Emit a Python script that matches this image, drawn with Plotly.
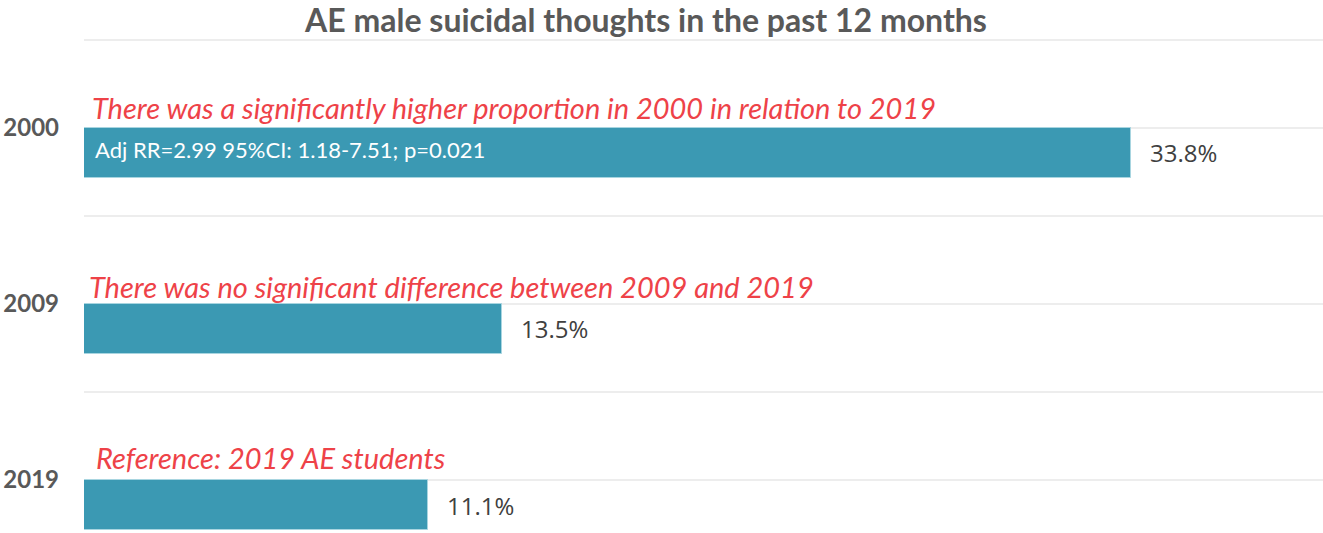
import plotly.graph_objects as go

# ---- data ----
years = ["2000", "2009", "2019"]
values = [33.8, 13.5, 11.1]
notes = [
    "There was a significantly higher proportion in 2000 in relation to 2019",
    "There was no significant difference between 2009 and 2019",
    "Reference: 2019 AE students",
]
inner_notes = ["Adj RR=2.99 95%CI: 1.18-7.51; p=0.021", "", ""]
title_text = "AE male suicidal thoughts in the past 12 months"

# ---- styling ----
BAR_COLOR = "#3B99B3"
RED = "#EE4248"
GREY_DARK = "#595959"
VAL_COLOR = "#404040"
BAR_W = 0.284

pos = list(range(len(years)))

fig = go.Figure()
fig.add_trace(go.Bar(
    x=values,
    y=pos,
    orientation="h",
    width=BAR_W,
    offset=0,
    marker=dict(color=BAR_COLOR, line=dict(color="#A8D5E0", width=1)),
    hoverinfo="skip",
    showlegend=False,
))

annotations = []
note_shift = [6, 3, 10]
note_off = [0.115, 0.10, 0.13]
for i, (v, n, inn) in enumerate(zip(values, notes, inner_notes)):
    # value label
    annotations.append(dict(
        x=v, y=i + BAR_W / 2, xref="x", yref="y",
        text=f"{v:.1f}%", showarrow=False, xanchor="left", yanchor="middle",
        xshift=17, font=dict(family="Open Sans", size=24, color=VAL_COLOR),
    ))
    # red note above bar
    annotations.append(dict(
        x=0, y=i - note_off[i], xref="x", yref="y",
        text=n, showarrow=False, xanchor="left", yanchor="middle",
        xshift=note_shift[i],
        font=dict(family="Lato", size=29, color=RED, style="italic"),
    ))
    if inn:
        annotations.append(dict(
            x=0, y=i + BAR_W / 2, xref="x", yref="y",
            text=inn, showarrow=False, xanchor="left", yanchor="middle",
            xshift=9, yshift=3,
            font=dict(family="Lato", size=22, color="white"),
        ))

tickvals = [-0.5, 0, 0.5, 1, 1.5, 2]
ticktext = ["", years[0], "", years[1], "", years[2]]

fig.update_layout(
    width=1323, height=533,
    margin=dict(l=84, r=0, t=30, b=0),
    paper_bgcolor="white", plot_bgcolor="white",
    title=dict(
        text=f"<b>{title_text}</b>",
        x=646 / 1323, xanchor="center", xref="container",
        y=1 - 21 / 533, yanchor="middle", yref="container",
        font=dict(family="Lato", size=32, color=GREY_DARK),
    ),
    xaxis=dict(range=[0, 40], showgrid=False, zeroline=False,
               showticklabels=False, ticks="", showline=False),
    yaxis=dict(range=[2.3011, -0.5568], tickvals=tickvals, ticktext=ticktext,
               showgrid=True, gridcolor="#EDEDED", gridwidth=2,
               zeroline=False, showline=False, ticks="",
               ticklabelstandoff=24,
               tickfont=dict(family="Lato", size=24, color=GREY_DARK, weight="bold")),
    annotations=annotations,
    bargap=0,
)

fig.write_html("out.html")
